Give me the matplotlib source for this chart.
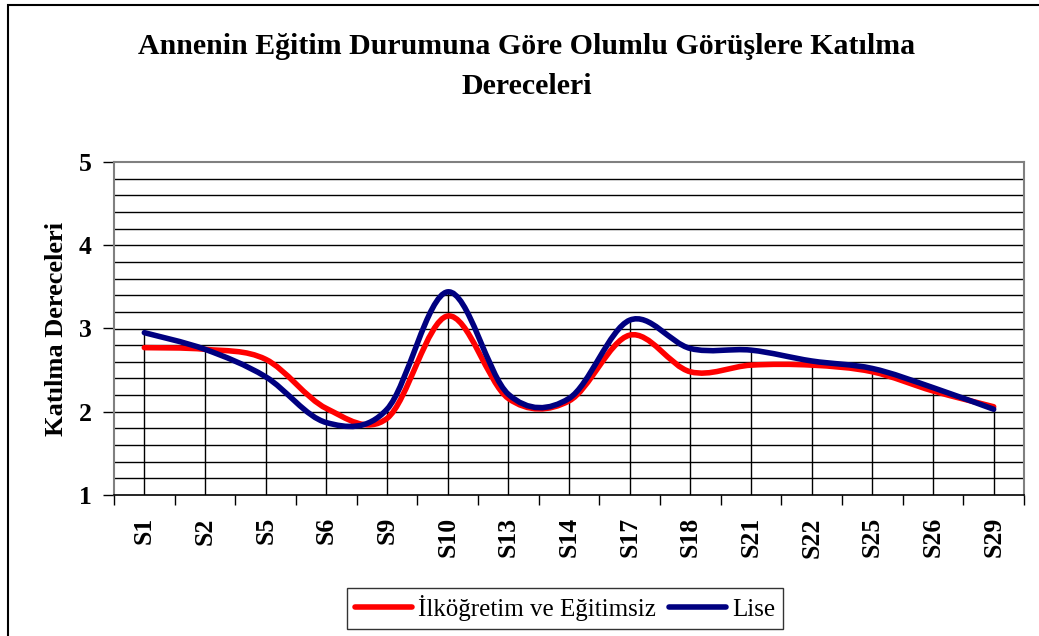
import matplotlib
matplotlib.use("Agg")
import matplotlib.pyplot as plt
from matplotlib.path import Path
from matplotlib.patches import PathPatch, Rectangle
from matplotlib.lines import Line2D
import numpy as np

plt.rcParams['font.family'] = ['Liberation Serif', 'DejaVu Serif']

categories = ["S1", "S2", "S5", "S6", "S9", "S10", "S13", "S14",
              "S17", "S18", "S21", "S22", "S25", "S26", "S29"]
ilkogretim = [2.77, 2.75, 2.63, 2.04, 1.92, 3.15, 2.16, 2.13,
              2.92, 2.48, 2.56, 2.56, 2.48, 2.25, 2.06]
lise = [2.95, 2.75, 2.42, 1.87, 2.03, 3.44, 2.21, 2.16,
        3.10, 2.76, 2.74, 2.61, 2.52, 2.29, 2.03]
series_names = ["İlköğretim ve Eğitimsiz", "Lise"]
series_colors = ["#FF0000", "#000080"]
title_lines = ["Annenin Eğitim Durumuna Göre Olumlu Görüşlere Katılma", "Dereceleri"]
y_label = "Katılma Dereceleri"


def smooth_path(xs, ys):
    """Cardinal (Catmull-Rom) Bezier path through the given points."""
    pts = np.column_stack([xs, ys]).astype(float)
    n = len(pts)
    verts = [tuple(pts[0])]
    codes = [Path.MOVETO]
    for i in range(n - 1):
        p0 = pts[i - 1] if i > 0 else pts[i]
        p1 = pts[i]
        p2 = pts[i + 1]
        p3 = pts[i + 2] if i + 2 < n else pts[i + 1]
        c1 = p1 + (p2 - p0) / 6.0
        c2 = p2 - (p3 - p1) / 6.0
        verts += [tuple(c1), tuple(c2), tuple(p2)]
        codes += [Path.CURVE4] * 3
    return Path(verts, codes)


fig = plt.figure(figsize=(10.39, 6.36), dpi=100)
fig.patch.set_facecolor("white")

# outer chart border
fig.add_artist(Rectangle((8 / 1039, -0.01), 1.02, 1 - 5 / 636 + 0.01,
                         transform=fig.transFigure, fill=False,
                         edgecolor="black", linewidth=1.5))

ax = fig.add_axes([114 / 1039, 1 - 495 / 636, 910 / 1039, 333 / 636])
x = np.arange(len(categories))

ax.set_xlim(-0.5, len(categories) - 0.5)
ax.set_ylim(1, 5)

# horizontal gridlines every 0.2
for yv in np.arange(1.2, 5.0, 0.2):
    ax.axhline(yv, color="black", linewidth=1.0, zorder=1)

# drop lines from the highest series to the axis
for xi, a, b in zip(x, ilkogretim, lise):
    ax.vlines(xi, 1, max(a, b), color="black", linewidth=1.0, zorder=1)

for vals, col in zip([ilkogretim, lise], series_colors):
    patch = PathPatch(smooth_path(x, vals), facecolor="none", edgecolor=col,
                      linewidth=4.0, capstyle="round", joinstyle="round", zorder=3)
    ax.add_patch(patch)

for side in ["top", "right", "left"]:
    ax.spines[side].set_color("#808080")
    ax.spines[side].set_linewidth(1.5)
ax.spines["bottom"].set_color("black")
ax.spines["bottom"].set_linewidth(1.2)

ax.set_yticks([1, 2, 3, 4, 5])
ax.set_yticklabels(["1", "2", "3", "4", "5"], fontsize=18.5, fontweight="bold")
ax.tick_params(axis="y", direction="out", length=8, width=1, color="black", pad=8)

ax.set_xticks(x)
ax.set_xticklabels(categories, rotation=90, fontsize=18.5, fontweight="bold")
ax.tick_params(axis="x", length=0, pad=16)
ax.set_xticks(np.arange(-0.5, len(categories), 1.0), minor=True)
ax.tick_params(axis="x", which="minor", direction="out", length=7, width=1, color="black")

ax.set_ylabel(y_label, fontsize=19, fontweight="bold", labelpad=8)

fig.text(527 / 1039, 1 - 46 / 636, title_lines[0], ha="center", va="center",
         fontsize=21.5, fontweight="bold")
fig.text(527 / 1039, 1 - 86 / 636, title_lines[1], ha="center", va="center",
         fontsize=21.5, fontweight="bold")

handles = [Line2D([0], [0], color=c, linewidth=4.0, solid_capstyle="round")
           for c in series_colors]
leg = fig.legend(handles, series_names, loc="center", bbox_to_anchor=(565 / 1039, 1 - 608 / 636),
                 ncol=2, frameon=True, fancybox=False, fontsize=18, handlelength=2.3,
                 handletextpad=0.25, columnspacing=0.5, borderpad=0.3)
leg.get_frame().set_edgecolor("black")
leg.get_frame().set_linewidth(1.0)

fig.savefig("out.png", dpi=100, facecolor="white")
